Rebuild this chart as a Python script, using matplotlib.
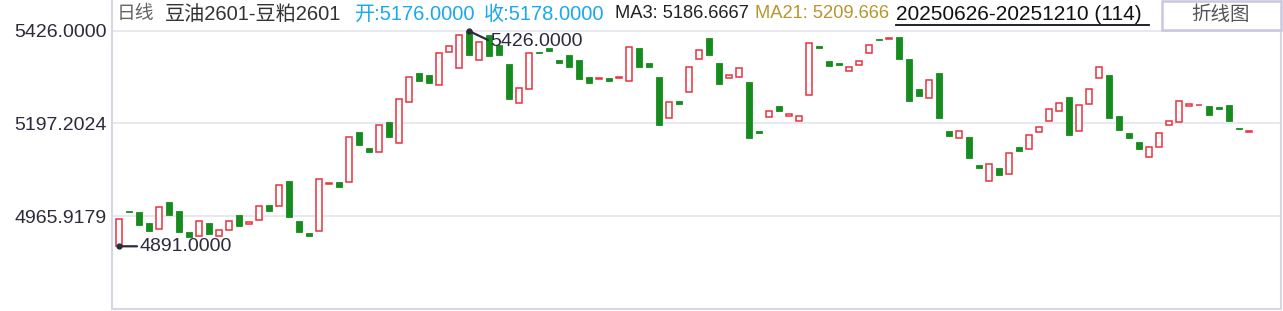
#!/usr/bin/env python3

import numpy as np
import matplotlib
matplotlib.use('Agg')
from matplotlib import pyplot as plt, patches

plt.rcParams['font.family'] = ['Liberation Sans', 'Noto Sans CJK SC', 'DejaVu Sans']

# Daily bars 20250626-20251210 (114), spread 豆油2601-豆粕2601
opens = [4891, 4978, 4976, 4949, 4933, 5001, 4979, 4927, 4917, 4949,
         4916, 4931, 4969, 4947, 4956, 4994, 4990, 5053, 4954, 4925,
         4928, 5046, 5051, 5050, 5175, 5135, 5126, 5200, 5147, 5249,
         5322, 5317, 5291, 5373, 5333, 5426, 5353, 5415, 5391, 5344,
         5246, 5281, 5374, 5384, 5355, 5366, 5355, 5312, 5307, 5309,
         5310, 5301, 5384, 5346, 5312, 5209, 5252, 5274, 5356, 5409,
         5346, 5308, 5311, 5299, 5177, 5212, 5240, 5216, 5202, 5266,
         5389, 5351, 5346, 5326, 5341, 5371, 5406, 5407, 5411, 5356,
         5282, 5259, 5322, 5177, 5159, 5163, 5093, 5053, 5086, 5070,
         5138, 5132, 5174, 5202, 5226, 5262, 5177, 5244, 5308, 5317,
         5215, 5172, 5150, 5112, 5137, 5192, 5199, 5240, 5241, 5240,
         5237, 5242, 5185, 5176]
closes = [4958, 4976, 4945, 4930, 4988, 4970, 4927, 4915, 4953, 4922,
          4931, 4953, 4942, 4952, 4990, 4979, 5043, 4964, 4927, 4917,
          5057, 5048, 5039, 5162, 5143, 5126, 5192, 5163, 5256, 5311,
          5302, 5297, 5371, 5388, 5415, 5367, 5398, 5365, 5367, 5258,
          5284, 5371, 5372, 5377, 5347, 5337, 5307, 5297, 5309, 5302,
          5312, 5385, 5337, 5337, 5193, 5249, 5245, 5336, 5378, 5367,
          5295, 5316, 5333, 5161, 5173, 5226, 5228, 5220, 5214, 5395,
          5384, 5340, 5342, 5336, 5351, 5390, 5404, 5409, 5357, 5253,
          5265, 5303, 5211, 5166, 5177, 5111, 5086, 5095, 5069, 5122,
          5129, 5167, 5187, 5231, 5246, 5168, 5241, 5281, 5336, 5211,
          5181, 5161, 5134, 5137, 5172, 5202, 5251, 5245, 5243, 5218,
          5233, 5203, 5183, 5178]
ytick_vals = [5426.0, 5197.2024, 4965.9179]
ytick_labels = ['5426.0000', '5197.2024', '4965.9179']

W, H = 1283, 311
RED = '#e8333d'
GREEN = '#178c1e'
GRID = '#e6e6f0'

o = np.array(opens, dtype=float)
c = np.array(closes, dtype=float)
x = np.arange(len(o))
up = c >= o

fig = plt.figure(figsize=(W / 100, H / 100), dpi=100)
# axes placed in pixel units
l, r, t, b = 112, 1281, 0, 308.5
ax = fig.add_axes([l / W, (H - b) / H, (r - l) / W, (b - t) / H])

k = 2.485  # price per pixel
ax.set_ylim(5426 - (b - 31) * k, 5426 + 31 * k)
ax.set_xlim(-0.7, 116.2)

for v in ytick_vals:
    ax.axhline(v, color=GRID, lw=1.3, zorder=0)

lo = np.minimum(o, c)
hgt = np.maximum(np.abs(c - o), 1.5)
ax.bar(x[up], hgt[up], bottom=lo[up], width=0.6, facecolor='white',
       edgecolor=RED, linewidth=1.1, zorder=2)
ax.bar(x[~up], hgt[~up], bottom=lo[~up], width=0.66, facecolor=GREEN,
       edgecolor=GREEN, linewidth=0.6, zorder=2)

ax.set_yticks(ytick_vals)
ax.set_yticklabels(ytick_labels, fontsize=14, color='#2b2b3b')
ax.tick_params(axis='y', length=0, pad=4)
ax.set_xticks([])
ax.spines['top'].set_visible(False)
for s in ['left', 'right', 'bottom']:
    ax.spines[s].set_color('#d6d6e6')
    ax.spines[s].set_linewidth(1.5)

# max / min markers
imax, imin = int(np.argmax(np.maximum(o, c))), int(np.argmin(np.minimum(o, c)))
vmax, vmin = max(o.max(), c.max()), min(o.min(), c.min())
for i, v, off in [(imax, vmax, (19, -9)), (imin, vmin, (18, 0))]:
    ax.plot([i], [v], 'o', color='#2b2b3b', ms=3.5, zorder=4)
    ax.annotate('', xy=(i, v), xytext=off, textcoords='offset pixels',
                arrowprops=dict(arrowstyle='-', color='#2b2b3b', lw=1.6,
                                shrinkA=0, shrinkB=0), zorder=4)
    ax.annotate('{:.4f}'.format(v), xy=(i, v),
                xytext=(off[0] + 2, off[1] - (2 if off[1] else 0)),
                textcoords='offset pixels', fontsize=14, color='#2b2b3b',
                ha='left', va='center', zorder=4)

# header line
yh = 1 - 14 / H
header = [(117, '日线', '#666666', 13.5),
          (165, '豆油2601-豆粕2601', '#333333', 14.5),
          (355, '开:5176.0000', '#1aa8ee', 14.5),
          (484, '收:5178.0000', '#1aa8ee', 14.5),
          (615, 'MA3: 5186.6667', '#222222', 13.2),
          (755, 'MA21: 5209.666', '#b8962e', 13.2)]
for px, txt, col, fs in header:
    fig.text(px / W, yh, txt, color=col, fontsize=fs, ha='left', va='center')
fig.text(896 / W, yh, '20250626-20251210 (114)', color='#111111', fontsize=15,
         ha='left', va='center')
fig.add_artist(plt.Line2D([896 / W, 1149 / W], [1 - 25 / H, 1 - 25 / H],
                          color='#111111', lw=1.3, transform=fig.transFigure))

# 折线图 button
fig.add_artist(patches.Rectangle((1162 / W, 1 - 30 / H), 119 / W, 29.5 / H,
                                 transform=fig.transFigure, facecolor='white',
                                 edgecolor='#c8c8e0', lw=1.8))
fig.text(1221 / W, 1 - 15 / H, '折线图', color='#555555', fontsize=14,
         ha='center', va='center')

plt.savefig('out.png', dpi=100)
